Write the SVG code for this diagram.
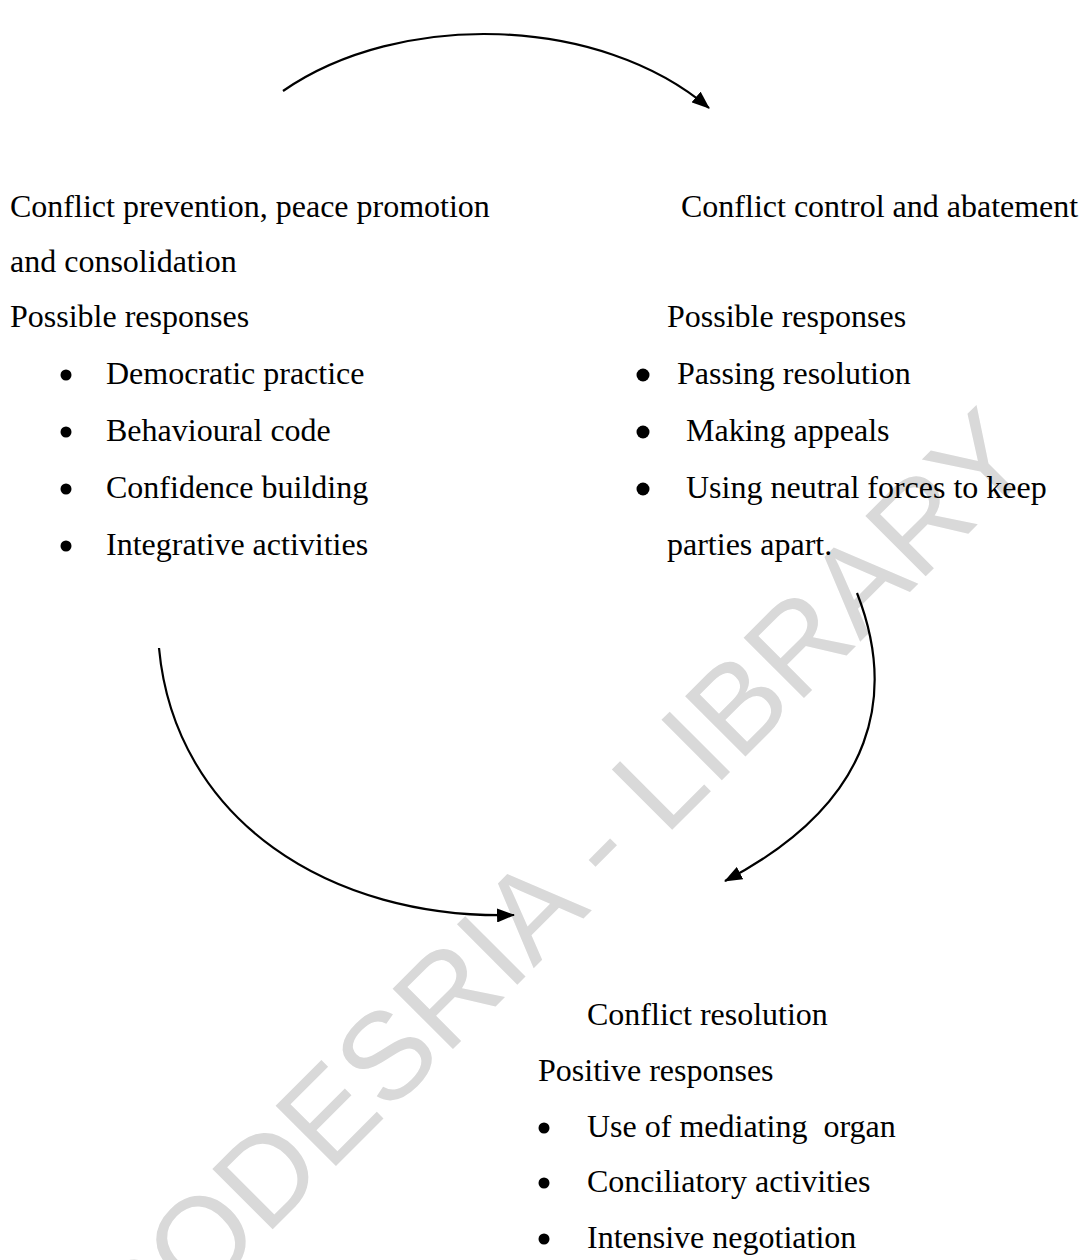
<svg xmlns="http://www.w3.org/2000/svg" width="1084" height="1260" viewBox="0 0 1084 1260">
  <style>
    .t { font-family: "Liberation Serif", "Times New Roman", serif; font-size: 32px; fill: #000; white-space: pre; }
    .wm { font-family: "Liberation Sans", Arial, sans-serif; font-size: 124px; fill: #d9d9d9; }
    .conn { fill: none; stroke: #000; stroke-width: 2.2; }
    .dot { fill: #000; }
  </style>
  <defs>
    <marker id="arrow" markerWidth="18" markerHeight="14" refX="17" refY="7" orient="auto" markerUnits="userSpaceOnUse">
      <path d="M0,0 L18,7 L0,14 z" fill="#000"/>
    </marker>
  </defs>
  <rect width="1084" height="1260" fill="#fff"/>

  <g id="watermark">
    <text class="wm" transform="translate(134,1368) rotate(-45)">CODESRIA - LIBRARY</text>
  </g>

  <g id="connectors">
    <path class="conn" d="M283,91 C400,10 600,15 709,108" marker-end="url(#arrow)"/>
    <path class="conn" d="M159,648 C175,820 330,920 514,915" marker-end="url(#arrow)"/>
    <path class="conn" d="M857,593 C895,690 880,800 725,881" marker-end="url(#arrow)"/>
  </g>

  <g id="node-prevention">
    <text class="t" x="10" y="217">Conflict prevention, peace promotion</text>
    <text class="t" x="10" y="272">and consolidation</text>
    <text class="t" x="10" y="327">Possible responses</text>
    <circle class="dot" cx="66" cy="375" r="5.5"/>
    <circle class="dot" cx="66" cy="432" r="5.5"/>
    <circle class="dot" cx="66" cy="489" r="5.5"/>
    <circle class="dot" cx="66" cy="546" r="5.5"/>
    <text class="t" x="106" y="384">Democratic practice</text>
    <text class="t" x="106" y="441">Behavioural code</text>
    <text class="t" x="106" y="498">Confidence building</text>
    <text class="t" x="106" y="555">Integrative activities</text>
  </g>

  <g id="node-control">
    <text class="t" x="681" y="217">Conflict control and abatement</text>
    <text class="t" x="667" y="327">Possible responses</text>
    <circle class="dot" cx="643" cy="375" r="6.5"/>
    <circle class="dot" cx="643" cy="432" r="6.5"/>
    <circle class="dot" cx="643" cy="489" r="6.5"/>
    <text class="t" x="677" y="384">Passing resolution</text>
    <text class="t" x="686" y="441">Making appeals</text>
    <text class="t" x="686" y="498">Using neutral forces to keep</text>
    <text class="t" x="667" y="555">parties apart.</text>
  </g>

  <g id="node-resolution">
    <text class="t" x="587" y="1025">Conflict resolution</text>
    <text class="t" x="538" y="1081">Positive responses</text>
    <circle class="dot" cx="544" cy="1128" r="5.5"/>
    <circle class="dot" cx="544" cy="1183" r="5.5"/>
    <circle class="dot" cx="544" cy="1239" r="5.5"/>
    <text class="t" x="587" y="1137">Use of mediating  organ</text>
    <text class="t" x="587" y="1192">Conciliatory activities</text>
    <text class="t" x="587" y="1248">Intensive negotiation</text>
  </g>
</svg>
